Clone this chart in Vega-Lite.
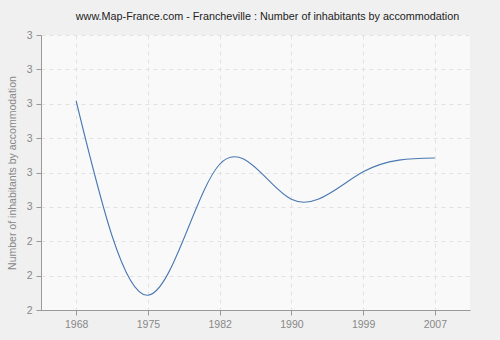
{
  "$schema": "https://vega.github.io/schema/vega-lite/v6.json",
  "width": 429,
  "height": 275,
  "autosize": {"type": "none"},
  "padding": {"left": 41, "top": 35, "right": 30, "bottom": 30},
  "background": "#f0f0f0",
  "config": {
    "font": "Liberation Sans",
    "view": {"fill": "#f9f9f9", "stroke": null}
  },
  "title": {
    "text": "www.Map-France.com - Francheville : Number of inhabitants by accommodation",
    "fontSize": 10.8,
    "fontWeight": "normal",
    "color": "#222222",
    "anchor": "middle",
    "offset": 8,
    "dx": 12
  },
  "data": {
    "values": [
      {"year": "1968", "value": 2.808},
      {"year": "1975", "value": 2.243},
      {"year": "1982", "value": 2.624},
      {"year": "1990", "value": 2.522},
      {"year": "1999", "value": 2.602},
      {"year": "2007", "value": 2.642}
    ]
  },
  "mark": {"type": "line", "interpolate": "natural", "color": "#4a78b0", "strokeWidth": 1.1},
  "encoding": {
    "x": {
      "field": "year",
      "type": "ordinal",
      "scale": {"type": "point", "padding": 0.49},
      "axis": {
        "title": null,
        "labelAngle": 0,
        "labelColor": "#888888",
        "labelFontSize": 10.5,
        "labelPadding": 4,
        "domainColor": "#999999",
        "tickColor": "#999999",
        "tickSize": 5,
        "grid": true,
        "gridColor": "#e2e2e2",
        "gridDash": [4, 4]
      }
    },
    "y": {
      "field": "value",
      "type": "quantitative",
      "scale": {"domain": [2.2, 3.0], "nice": false, "zero": false},
      "axis": {
        "title": "Number of inhabitants by accommodation",
        "titleFontSize": 10.5,
        "titleFontWeight": "normal",
        "titleColor": "#888888",
        "titlePadding": 9,
        "values": [2.2, 2.3, 2.4, 2.5, 2.6, 2.7, 2.8, 2.9, 3.0],
        "format": ".0f",
        "labelColor": "#888888",
        "labelFontSize": 10.5,
        "labelPadding": 4,
        "domainColor": "#999999",
        "tickColor": "#999999",
        "tickSize": 5,
        "grid": true,
        "gridColor": "#e2e2e2",
        "gridDash": [4, 4]
      }
    }
  }
}
